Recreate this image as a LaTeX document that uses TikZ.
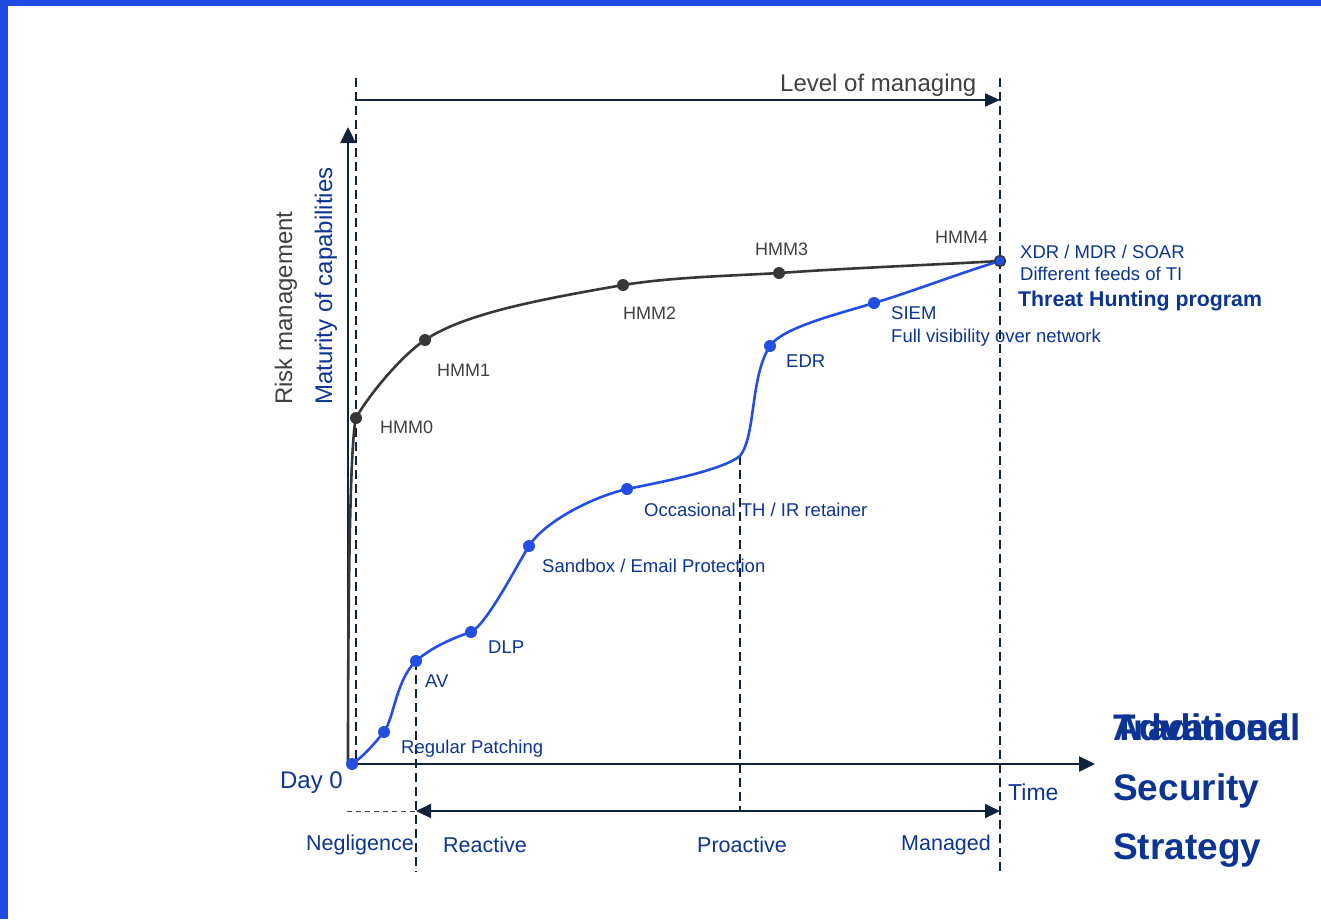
\documentclass[tikz,border=0pt]{standalone}
\usepackage{fontspec}
\setmainfont{Liberation Sans}
\usetikzlibrary{arrows.meta,positioning}
\definecolor{navy}{RGB}{16,34,60}
\definecolor{txtblue}{RGB}{12,52,148}
\definecolor{curveblue}{RGB}{34,78,228}
\definecolor{curvegray}{RGB}{55,55,55}
\definecolor{txtgray}{RGB}{64,64,64}
\definecolor{frameblue}{RGB}{30,75,225}
\tikzset{
	axis line/.style={draw=navy, line width=2.4pt, -{Triangle[length=16pt,width=15pt]}},
	span line/.style={draw=navy, line width=2pt},
	guide/.style={draw=navy, line width=1.1pt, dash pattern=on 9pt off 5pt},
	txt/.style={inner sep=0pt, anchor=base west},
	lbl/.style={txt, text=txtblue, font=\fontsize{18.5}{22}\selectfont},
	phase/.style={txt, text=txtblue, font=\fontsize{21.5}{25}\selectfont},
	big/.style={txt, text=txtblue, font=\fontsize{37}{41}\selectfont\bfseries}
}
\begin{document}
\begin{tikzpicture}[x=1pt, y=-1pt,
		gdot/.style = {circle, minimum size = 12pt, inner sep = 0pt, fill = curvegray},
		bdot/.style = {circle, minimum size = 12pt, inner sep = 0pt, fill = curveblue},
		enddot/.style = {circle, minimum size = 11pt, inner sep = 0pt, draw = curvegray, line width = 1.5pt, fill = curveblue},
		hmm/.style = {txt, text = txtgray, font = \fontsize{18}{22}\selectfont},
	]
	\useasboundingbox (0,0) rectangle (1321,919);
	\fill[frameblue] (0,0) rectangle (1321,6);
	\fill[frameblue] (0,0) rectangle (8,919);

	% axes
	\coordinate (o) at (348,764);
	\coordinate (ytip) at (348,127);
	\coordinate (xtip) at (1095,764);
	\draw[axis line] (o) -- (ytip);
	\draw[axis line] (o) -- (xtip);

	% guides
	\foreach\name/\x/\ya/\yb in {g0/356/78/764, g1/416/661/872, g2/740/456/811, g3/1000/78/872}{
		\coordinate (\name a) at (\x,\ya);
		\coordinate (\name b) at (\x,\yb);
		\draw[guide] (\name a) -- (\name b);
	}
	\coordinate (lvlA) at (357,100);
	\coordinate (lvlB) at (1000,100);
	\draw[span line, -{Triangle[length=15pt,width=13pt]}] (lvlA) -- (lvlB);
	\coordinate (phA) at (416,811);
	\coordinate (phB) at (1000,811);
	\coordinate (phL) at (347,811);
	\draw[span line, {Triangle[length=15pt,width=14pt]}-{Triangle[length=15pt,width=14pt]}] (phA) -- (phB);
	\draw[draw=txtgray, line width=1pt, dash pattern=on 5pt off 4pt] (phL) -- (phA);

	% points of the curves
	\foreach\n/\x/\y in {0/356/418, 1/425/340, 2/623/285, 3/779/273, 4/1000/261}{
		\coordinate (p-hmm\n) at (\x,\y);
	}
	\foreach\name/\x/\y in {start/352/764, patch/384/732, av/416/661, dlp/471/632, sandbox/529/546, occ/627/489, edr/770/346, siem/874/303}{
		\coordinate (p-\name) at (\x,\y);
	}
	\coordinate (knee) at (740,456);

	% curves
	\draw[curvegray, line width=2.6pt] (o)
		.. controls (348,600) and (350,440) .. (p-hmm0)
		.. controls (368,396) and (401,356) .. (p-hmm1)
		.. controls (465,313) and (543,299) .. (p-hmm2)
		.. controls (673,277) and (729,276) .. (p-hmm3)
		.. controls (850,268) and (930,265) .. (p-hmm4);
	\draw[curveblue, line width=2.6pt] (p-start)
		.. controls (364,756) and (374,744) .. (p-patch)
		.. controls (394,718) and (396,680) .. (p-av)
		.. controls (432,647) and (453,638) .. (p-dlp)
		.. controls (487,624) and (517,565) .. (p-sandbox)
		.. controls (544,522) and (592,497) .. (p-occ)
		.. controls (667,481) and (722,470) .. (knee)
		.. controls (756,436) and (750,376) .. (p-edr)
		.. controls (782,328) and (834,315) .. (p-siem)
		.. controls (914,291) and (960,273) .. (p-hmm4);

	% dots
	\foreach\n in {0,1,2,3}{
		\node [gdot] (hmm\n) at (p-hmm\n) {};
	}
	\node [enddot] (hmm4) at (p-hmm4) {};
	\foreach\name in {start,patch,av,dlp,sandbox,occ,edr,siem}{
		\node [bdot] (\name) at (p-\name) {};
	}

	% labels
	\foreach\n/\x/\y in {0/380/433, 1/437/376, 2/623/319, 3/755/255, 4/935/243}{
		\node [hmm] (hmm\n-l) at (\x,\y) {HMM\n};
	}
	\node [lbl] (xdr-l) at (1020,258) {XDR / MDR / SOAR};
	\node [lbl] (ti-l) at (1020,280) {Different feeds of TI};
	\node [txt, text = txtblue, font = \fontsize{21.3}{24}\selectfont\bfseries] (th-l) at (1018,306) {Threat Hunting program};
	\node [lbl] (siem-l) at (891,319) {SIEM};
	\node [lbl] (net-l) at (891,342) {Full visibility over network};
	\node [lbl] (edr-l) at (786,367) {EDR};
	\node [lbl] (occ-l) at (644,516) {Occasional TH / IR retainer};
	\node [lbl] (sandbox-l) at (542,572) {Sandbox / Email Protection};
	\node [lbl] (dlp-l) at (488,653) {DLP};
	\node [lbl] (av-l) at (425,687) {AV};
	\node [lbl] (patch-l) at (401,753) {Regular Patching};

	\node [txt, anchor = base east, text = txtblue, font = \fontsize{24}{28}\selectfont] (day-l) at (343,788) {Day 0};
	\node [txt, text = txtblue, font = \fontsize{23}{28}\selectfont] (time-l) at (1008,800) {Time};
	\node [txt, text = txtgray, font = \fontsize{24}{28}\selectfont] (lvl-l) at (780,91) {Level of managing};
	\node [txt, rotate = 90, text = txtgray, font = \fontsize{24}{28}\selectfont] (risk-l) at (292,405) {Risk management};
	\node [txt, rotate = 90, text = txtblue, font = \fontsize{24}{28}\selectfont] (mat-l) at (332,405) {Maturity of capabilities};

	\node [phase] (neg-l) at (306,850) {Negligence};
	\node [phase] (rea-l) at (443,852) {Reactive};
	\node [phase] (pro-l) at (697,852) {Proactive};
	\node [phase] (man-l) at (901,850) {Managed};

	% the two titles overlap, as in the source
	\node [big] (trad-l) at (1113,740) {Traditional};
	\node [big] (adv-l) at (1113,740) {Advanced};
	\node [big] (sec-l) at (1113,800) {Security};
	\node [big] (str-l) at (1113,859) {Strategy};
\end{tikzpicture}
\end{document}
